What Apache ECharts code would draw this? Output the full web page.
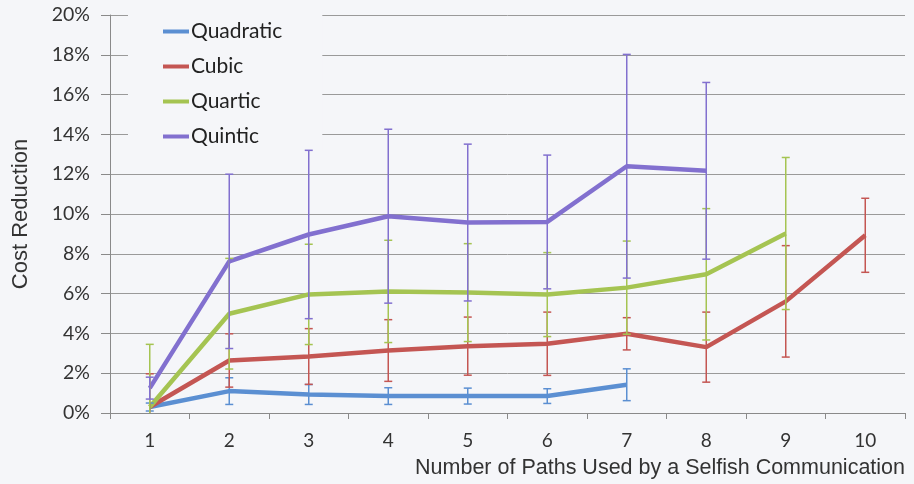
<!DOCTYPE html>
<html>
<head>
<meta charset="utf-8">
<script src="https://cdn.jsdelivr.net/npm/echarts@6/dist/echarts.min.js"></script>
<style>
html,body{margin:0;padding:0;background:#f5f6f9;}
#chart{width:914px;height:484px;}
</style>
</head>
<body>
<div id="chart"></div>
<script>
var categories = ['1','2','3','4','5','6','7','8','9','10'];
var yTicks = [0,2,4,6,8,10,12,14,16,18,20];

var quadratic    = [0.30, 1.10, 0.93, 0.85, 0.85, 0.85, 1.42, null, null, null];
var quadraticErr = [0.20, 0.67, 0.50, 0.42, 0.40, 0.37, 0.80, null, null, null];
var cubic        = [0.30, 2.64, 2.84, 3.14, 3.36, 3.48, 3.98, 3.31, 5.61, 8.93];
var cubicErr     = [1.67, 1.34, 1.40, 1.55, 1.46, 1.59, 0.81, 1.76, 2.80, 1.86];
var quartic      = [0.30, 4.99, 5.96, 6.11, 6.05, 5.95, 6.30, 6.97, 9.02, null];
var quarticErr   = [3.15, 2.78, 2.52, 2.57, 2.46, 2.11, 2.34, 3.30, 3.82, null];
var quintic      = [1.25, 7.62, 8.97, 9.89, 9.57, 9.60, 12.40, 12.17, null, null];
var quinticErr   = [0.55, 4.38, 4.23, 4.37, 3.94, 3.36, 5.62, 4.44, null, null];

var seriesNames = ['Quadratic','Cubic','Quartic','Quintic'];
var seriesVals  = [quadratic, cubic, quartic, quintic];
var seriesErrs  = [quadraticErr, cubicErr, quarticErr, quinticErr];
var colors = ['#5b8fd2','#c45653','#a5c452','#8270cf'];

var chart = echarts.init(document.getElementById('chart'));

function errData(vals, errs){
  var out = [];
  for (var i = 0; i < vals.length; i++) {
    if (vals[i] == null || errs[i] == null) continue;
    out.push([i, vals[i] - errs[i], vals[i] + errs[i]]);
  }
  return out;
}

function makeErrRender(color){
  return function(params, api){
    var x = api.value(0);
    var lo = api.value(1), hi = api.value(2);
    var loC = Math.max(lo, 0), hiC = Math.min(hi, 20);
    var pLo = api.coord([x, loC]);
    var pHi = api.coord([x, hiC]);
    var hw = 4;
    var style = {stroke: color, lineWidth: 1.5, fill: null};
    var children = [
      {type:'line', shape:{x1:pHi[0], y1:pHi[1], x2:pLo[0], y2:pLo[1]}, style: style}
    ];
    if (hi <= 20) children.push({type:'line', shape:{x1:pHi[0]-hw, y1:pHi[1], x2:pHi[0]+hw, y2:pHi[1]}, style: style});
    if (lo >= 0) children.push({type:'line', shape:{x1:pLo[0]-hw, y1:pLo[1], x2:pLo[0]+hw, y2:pLo[1]}, style: style});
    return {type:'group', children: children};
  };
}

var series = [];
for (var s = 0; s < 4; s++) {
  series.push({
    name: seriesNames[s],
    type: 'line',
    data: seriesVals[s],
    symbol: 'none',
    lineStyle: {width: 4.5, color: colors[s]},
    itemStyle: {color: colors[s]},
    z: 3
  });
}
for (var s2 = 0; s2 < 4; s2++) {
  series.push({
    name: seriesNames[s2],
    type: 'custom',
    data: errData(seriesVals[s2], seriesErrs[s2]),
    renderItem: makeErrRender(colors[s2]),
    encode: {x: 0, y: [1, 2]},
    z: 4,
    silent: true
  });
}

chart.setOption({
  backgroundColor: '#f5f6f9',
  animation: false,
  textStyle: {fontFamily: 'Lato, "Open Sans", sans-serif'},
  grid: {left: 110, right: 9, top: 15, bottom: 71, containLabel: false},
  legend: {
    data: seriesNames.map(function(n,i){ return {name: n, icon: 'rect'}; }),
    orient: 'vertical',
    left: 128,
    top: 9,
    padding: [12, 40, 4, 35],
    backgroundColor: '#f5f6f9',
    itemWidth: 26,
    itemHeight: 4,
    itemGap: 14,
    textStyle: {fontSize: 21, color: '#222', fontFamily: 'Lato, "Open Sans", sans-serif', padding: [0,0,0,-3], lineHeight: 20},
    z: 1
  },
  xAxis: {
    type: 'category',
    data: categories,
    boundaryGap: true,
    name: 'Number of Paths Used by a Selfish Communication',
    nameLocation: 'end',
    nameGap: 0,
    nameTextStyle: {
      fontFamily: '"Liberation Sans", Arial, sans-serif',
      fontSize: 21.5,
      color: '#333',
      align: 'right',
      verticalAlign: 'top',
      padding: [44, 0, 0, 0]
    },
    axisLine: {lineStyle: {color: '#8a8a8a', width: 1}},
    axisTick: {show: true, length: 6, lineStyle: {color: '#8a8a8a'}, alignWithLabel: false},
    axisLabel: {fontSize: 19, color: '#333', margin: 18},
    splitLine: {show: false}
  },
  yAxis: {
    type: 'value',
    min: 0,
    max: 20,
    interval: 2,
    name: 'Cost Reduction',
    nameLocation: 'middle',
    nameGap: 78,
    nameRotate: 90,
    nameTextStyle: {
      fontFamily: '"Liberation Sans", Arial, sans-serif',
      fontSize: 22,
      color: '#333'
    },
    axisLine: {show: true, lineStyle: {color: '#8a8a8a', width: 1}},
    axisTick: {show: true, length: 9, lineStyle: {color: '#8a8a8a'}},
    axisLabel: {
      fontSize: 19.5,
      color: '#333',
      margin: 20,
      formatter: function(v){ return yTicks.indexOf(v) >= 0 ? v + '%' : ''; }
    },
    splitLine: {show: true, lineStyle: {color: '#9a9a9a', width: 1}}
  },
  series: series
});
</script>
</body>
</html>
